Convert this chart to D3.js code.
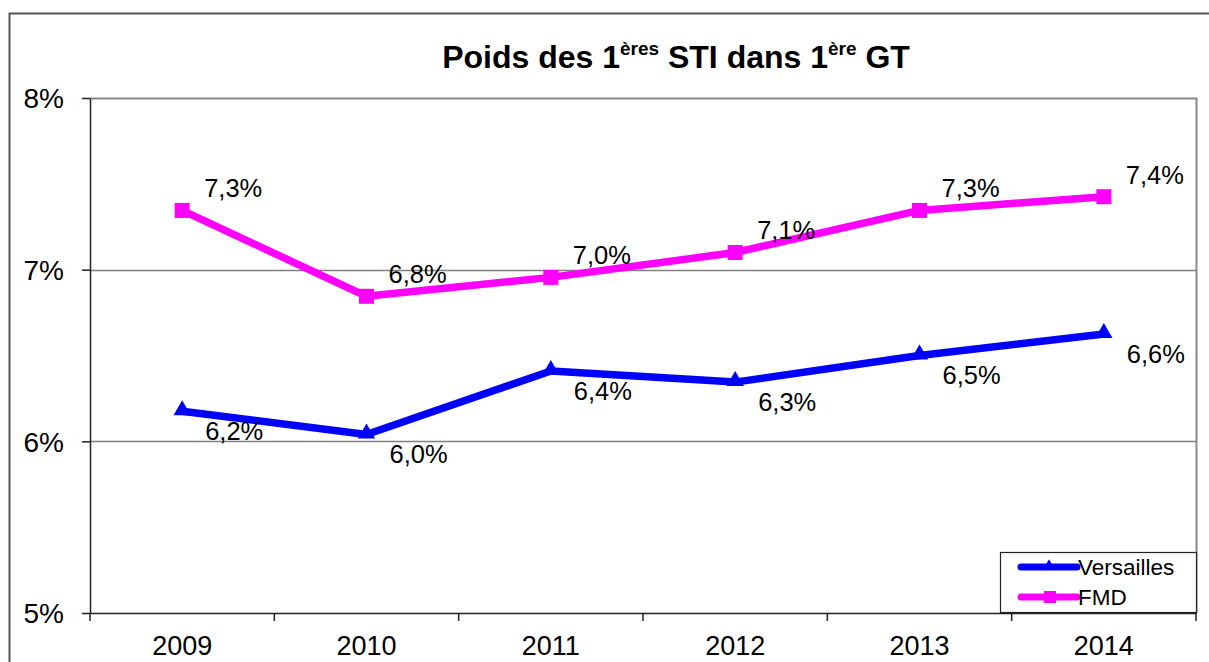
<!DOCTYPE html>
<html><head><meta charset="utf-8">
<script src="https://cdn.jsdelivr.net/npm/d3@7"></script>
<style>body{margin:0;background:#fff;} svg{display:block;font-family:"Liberation Sans",Arial,sans-serif;}</style>
</head><body><svg id="c" width="1209" height="662"></svg>
<script>
const categories = ["2009","2010","2011","2012","2013","2014"];
const versailles = [6.175, 6.04, 6.41, 6.345, 6.50, 6.625];
const fmd = [7.345, 6.845, 6.955, 7.10, 7.345, 7.425];
const versaillesLabels = ["6,2%","6,0%","6,4%","6,3%","6,5%","6,6%"];
const fmdLabels = ["7,3%","6,8%","7,0%","7,1%","7,3%","7,4%"];
const yTicks = [5,6,7,8];
const yTickLabels = ["5%","6%","7%","8%"];

const FONT = "Liberation Sans, Arial, sans-serif";
const svg = d3.select("#c");
const L=90, R=1196, T=98, B=613;
const x = d3.scaleBand().domain(categories).range([L,R]);
const y = d3.scaleLinear().domain([5,8]).range([B,T]);

// outer border
svg.append("path").attr("d",`M9.5,662 V13.5 H1209`).attr("fill","none").attr("stroke","#555").attr("stroke-width",2);

// plot frame (top & right gray)
svg.append("path").attr("d",`M${L},${T+0.5} H${R+0.5} V${B}`).attr("fill","none").attr("stroke","#888").attr("stroke-width",2);

// gridlines
svg.append("g").selectAll("line").data([6,7]).join("line")
  .attr("x1",L).attr("x2",R).attr("y1",d=>Math.round(y(d))+0.5).attr("y2",d=>Math.round(y(d))+0.5)
  .attr("stroke","#808080").attr("stroke-width",1.5);

// y axis
const yAxis = d3.axisLeft(y).tickValues(yTicks).tickFormat((d,i)=>yTickLabels[i]).tickSize(8).tickSizeOuter(0);
const gy = svg.append("g").attr("transform",`translate(${L},0)`).call(yAxis);
gy.attr("font-size",null).attr("font-family",null);
gy.select(".domain").attr("stroke","#222").attr("stroke-width",1.5);
gy.selectAll(".tick line").attr("stroke","#222").attr("stroke-width",1.5);
gy.selectAll(".tick text").style("font-size","28px").style("font-family",FONT).attr("fill","#000").attr("x",-26).attr("dy","0.35em");

// x axis
const xAxis = d3.axisBottom(x).tickSize(0).tickSizeOuter(0);
const gx = svg.append("g").attr("transform",`translate(0,${B})`).call(xAxis);
gx.attr("font-size",null).attr("font-family",null);
gx.select(".domain").attr("stroke","#222").attr("stroke-width",1.5);
gx.selectAll(".tick text").style("font-size","27px").style("font-family",FONT).attr("fill","#000").attr("y",33).attr("dy","0.35em");
// boundary ticks
const bounds = categories.map(c=>x(c)).concat([R]);
svg.append("g").selectAll("line").data(bounds).join("line")
  .attr("x1",d=>d).attr("x2",d=>d).attr("y1",B).attr("y2",B+8).attr("stroke","#222").attr("stroke-width",1.5);

const cx = c => x(c)+x.bandwidth()/2;
const line = d3.line().x((d,i)=>cx(categories[i])).y(d=>y(d));

// FMD
svg.append("path").datum(fmd).attr("d",line).attr("fill","none").attr("stroke","#ff00ff").attr("stroke-width",7.5).attr("stroke-linejoin","round");
svg.append("g").selectAll("rect").data(fmd).join("rect")
  .attr("x",(d,i)=>cx(categories[i])-7.5).attr("y",d=>y(d)-7.5).attr("width",15).attr("height",15).attr("fill","#ff00ff");
// Versailles
svg.append("path").datum(versailles).attr("d",line).attr("fill","none").attr("stroke","#0000ff").attr("stroke-width",7.5).attr("stroke-linejoin","round");
const tri = d3.symbol().type(d3.symbolTriangle).size(130);
svg.append("g").selectAll("path").data(versailles).join("path")
  .attr("d",tri).attr("transform",(d,i)=>`translate(${cx(categories[i])},${y(d)-1})`).attr("fill","#0000ff");

// labels
svg.append("g").selectAll("text").data(fmd).join("text")
  .attr("x",(d,i)=>cx(categories[i])+22).attr("y",d=>y(d)-22).attr("dy","0.35em")
  .style("font-size","25.5px").attr("fill","#000").text((d,i)=>fmdLabels[i]);
svg.append("g").selectAll("text").data(versailles).join("text")
  .attr("x",(d,i)=>cx(categories[i])+23).attr("y",d=>y(d)+20).attr("dy","0.35em")
  .style("font-size","25.5px").attr("fill","#000").text((d,i)=>versaillesLabels[i]);

// title
const title = svg.append("text").attr("x",676).attr("y",68).attr("text-anchor","middle")
  .style("font-size","32px").attr("font-weight","bold").attr("fill","#000");
title.append("tspan").text("Poids des 1");
title.append("tspan").style("font-size","19px").attr("dy",-13).text("ères");
title.append("tspan").attr("dy",13).text(" STI dans 1");
title.append("tspan").style("font-size","19px").attr("dy",-13).text("ère");
title.append("tspan").attr("dy",13).text(" GT");

// legend
const lg = svg.append("g");
lg.append("rect").attr("x",1000.5).attr("y",552.5).attr("width",196).attr("height",60).attr("fill","#fff").attr("stroke","#222").attr("stroke-width",1.2);
const items = [{name:"Versailles",color:"#0000ff",sym:"tri"},{name:"FMD",color:"#ff00ff",sym:"sq"}];
items.forEach((it,i)=>{
  const yy = 567 + i*30;
  lg.append("line").attr("x1",1021).attr("x2",1077).attr("y1",yy).attr("y2",yy).attr("stroke",it.color).attr("stroke-width",7).attr("stroke-linecap","round");
  if(it.sym==="tri") lg.append("path").attr("d",d3.symbol().type(d3.symbolTriangle).size(60)).attr("transform",`translate(1049,${yy-1})`).attr("fill",it.color);
  else lg.append("rect").attr("x",1044).attr("y",yy-6).attr("width",12).attr("height",12).attr("fill",it.color);
  lg.append("text").attr("x",1078).attr("y",yy).attr("dy","0.35em").style("font-size","22.5px").attr("fill","#000").text(it.name);
});
</script></body></html>
